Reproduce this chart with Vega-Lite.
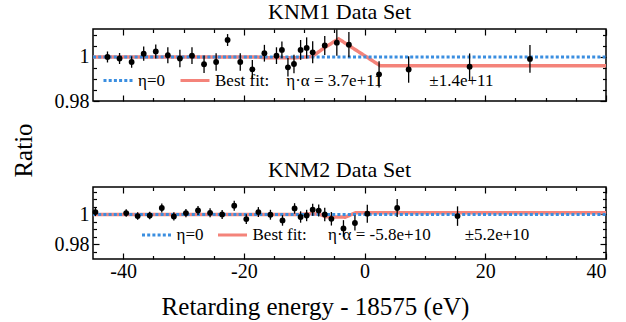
{
  "$schema": "https://vega.github.io/schema/vega-lite/v6.json",
  "padding": {"left": 10, "top": 0, "right": 5, "bottom": 5},
  "background": "white",
  "datasets": {
    "k1pts": [
      {"x": -42.6, "y": 1.0, "e": 0.0025}, {"x": -40.6, "y": 0.9993, "e": 0.0025}, {"x": -38.6, "y": 0.9977, "e": 0.0026},
      {"x": -36.6, "y": 1.0015, "e": 0.0032}, {"x": -34.6, "y": 1.0025, "e": 0.0032}, {"x": -32.6, "y": 1.0008, "e": 0.0036},
      {"x": -30.6, "y": 0.9993, "e": 0.004}, {"x": -28.6, "y": 1.0006, "e": 0.0038}, {"x": -26.6, "y": 0.9967, "e": 0.004},
      {"x": -24.6, "y": 0.9977, "e": 0.004}, {"x": -22.7, "y": 1.0077, "e": 0.0027}, {"x": -20.6, "y": 0.9977, "e": 0.004},
      {"x": -18.6, "y": 0.9944, "e": 0.0042}, {"x": -16.6, "y": 1.0017, "e": 0.0038}, {"x": -14.6, "y": 1.0006, "e": 0.0038},
      {"x": -13.7, "y": 1.0032, "e": 0.0038}, {"x": -12.7, "y": 0.9953, "e": 0.0042}, {"x": -11.7, "y": 0.9968, "e": 0.0042},
      {"x": -10.6, "y": 1.0032, "e": 0.0045}, {"x": -9.6, "y": 1.0041, "e": 0.0048}, {"x": -8.6, "y": 1.0021, "e": 0.005},
      {"x": -6.6, "y": 1.0052, "e": 0.0043}, {"x": -4.6, "y": 1.0065, "e": 0.006}, {"x": -2.6, "y": 1.0056, "e": 0.0057},
      {"x": 2.4, "y": 0.9921, "e": 0.006}, {"x": 7.3, "y": 0.9943, "e": 0.006}, {"x": 17.4, "y": 0.9956, "e": 0.006},
      {"x": 27.4, "y": 0.9991, "e": 0.0063}
    ],
    "k1fit": [
      {"s": "fit", "x": -45, "y": 1.0}, {"s": "fit", "x": -18, "y": 1.0}, {"s": "fit", "x": -16, "y": 0.9996},
      {"s": "fit", "x": -11.5, "y": 0.9996}, {"s": "fit", "x": -8.7, "y": 1.0002}, {"s": "fit", "x": -6.5, "y": 1.0045},
      {"s": "fit", "x": -4.3, "y": 1.0082}, {"s": "fit", "x": 2.6, "y": 0.996}, {"s": "fit", "x": 40, "y": 0.996}
    ],
    "k1eta": [{"s": "eta0", "x": -45, "y": 1.0}, {"s": "eta0", "x": 40, "y": 1.0}],
    "k2pts": [
      {"x": -44.6, "y": 1.0016, "e": 0.0027}, {"x": -39.5, "y": 1.0009, "e": 0.0025}, {"x": -37.6, "y": 0.9989, "e": 0.0025},
      {"x": -35.6, "y": 0.9993, "e": 0.0025}, {"x": -33.6, "y": 1.0043, "e": 0.003}, {"x": -31.6, "y": 0.9987, "e": 0.0027},
      {"x": -29.6, "y": 1.0009, "e": 0.0027}, {"x": -27.6, "y": 1.0027, "e": 0.003}, {"x": -25.6, "y": 1.0011, "e": 0.003},
      {"x": -23.6, "y": 1.0, "e": 0.003}, {"x": -21.6, "y": 1.0058, "e": 0.0033}, {"x": -19.6, "y": 0.9969, "e": 0.0033},
      {"x": -17.6, "y": 1.0016, "e": 0.0033}, {"x": -15.6, "y": 0.9998, "e": 0.0033}, {"x": -13.6, "y": 0.996, "e": 0.0035},
      {"x": -11.6, "y": 1.004, "e": 0.0035}, {"x": -10.6, "y": 0.9983, "e": 0.0038}, {"x": -9.6, "y": 0.9993, "e": 0.0038},
      {"x": -8.6, "y": 1.0032, "e": 0.004}, {"x": -7.6, "y": 1.0026, "e": 0.004}, {"x": -6.6, "y": 1.0, "e": 0.0045},
      {"x": -5.5, "y": 0.9971, "e": 0.0045}, {"x": -3.5, "y": 0.9907, "e": 0.0055}, {"x": -1.6, "y": 0.9943, "e": 0.005},
      {"x": 0.45, "y": 1.0005, "e": 0.006}, {"x": 5.4, "y": 1.0043, "e": 0.006}, {"x": 15.4, "y": 0.9989, "e": 0.0065}
    ],
    "k2fit": [
      {"s": "fit", "x": -45, "y": 1.0}, {"s": "fit", "x": -11, "y": 1.0}, {"s": "fit", "x": -9, "y": 1.0004},
      {"s": "fit", "x": -7.5, "y": 1.0003}, {"s": "fit", "x": -6.5, "y": 0.9985}, {"s": "fit", "x": -3.2, "y": 0.9982},
      {"s": "fit", "x": -1.5, "y": 1.0011}, {"s": "fit", "x": 40, "y": 1.0011}
    ],
    "k2eta": [{"s": "eta0", "x": -45, "y": 1.0}, {"s": "eta0", "x": 40, "y": 1.0}]
  },
  "vconcat": [
    {
      "title": {"text": "KNM1 Data Set", "dx": -10},
      "width": 513,
      "height": 72,
      "layer": [
        {
          "data": {"name": "k1fit"},
          "mark": {"type": "line", "strokeWidth": 3.5, "strokeCap": "butt"},
          "encoding": {
            "x": {"field": "x", "type": "quantitative", "scale": {"domain": [-45, 40], "nice": false, "zero": false},
              "axis": {"orient": "bottom", "values": [-40, -35, -30, -25, -20, -15, -10, -5, 0, 5, 10, 15, 20, 25, 30, 35, 40], "labels": false, "title": null,
                "tickSize": {"condition": {"test": "datum.value % 20 === 0", "value": -6}, "value": -3.5}}},
            "y": {"field": "y", "type": "quantitative", "scale": {"domain": [0.98, 1.0127], "nice": false, "zero": false},
              "axis": {"orient": "left", "values": [0.98, 0.985, 0.99, 0.995, 1, 1.005, 1.01],
                "labelExpr": "abs(datum.value-1)<1e-6 ? '1' : abs(datum.value-0.98)<1e-6 ? '0.98' : ''",
                "labelPadding": 10, "labelFont": "Liberation Serif", "labelFontSize": 20,
                "tickSize": {"condition": {"test": "abs(datum.value-1)<1e-6 || abs(datum.value-0.98)<1e-6", "value": -6}, "value": -3.5},
                "title": "Ratio", "titleX": -70, "titleY": 121, "titleAngle": 270, "titleAlign": "center", "titleBaseline": "middle", "titleFont": "Liberation Serif"}},
            "color": {"field": "s", "type": "nominal", "scale": {"domain": ["eta0", "fit"], "range": ["#3a8ee0", "#f4837a"]},
              "legend": {"orient": "none", "legendX": 9, "legendY": 35.5, "direction": "horizontal", "title": null, "symbolType": "stroke", "symbolSize": 841, "symbolStrokeWidth": 3, "columnPadding": 9, "labelOffset": 4, "padding": 0, "labelLimit": 0, "labelFont": "Liberation Serif", "labelFontSize": 17,
                "labelExpr": "datum.value == 'eta0' ? 'η=0' : 'Best fit:\u00a0\u00a0\u00a0\u00a0η·α = 3.7e+11\u00a0\u00a0\u00a0\u00a0\u00a0\u00a0\u00a0\u00a0\u00a0\u00a0\u00a0±1.4e+11'"}},
            "strokeDash": {"field": "s", "type": "nominal", "scale": {"domain": ["eta0", "fit"], "range": [[3, 2.2], [1, 0]]},
              "legend": {"orient": "none", "legendX": 9, "legendY": 35.5, "direction": "horizontal", "title": null, "symbolType": "stroke", "symbolSize": 841, "symbolStrokeWidth": 3, "columnPadding": 9, "labelOffset": 4, "padding": 0, "labelLimit": 0, "labelFont": "Liberation Serif", "labelFontSize": 17,
                "labelExpr": "datum.value == 'eta0' ? 'η=0' : 'Best fit:\u00a0\u00a0\u00a0\u00a0η·α = 3.7e+11\u00a0\u00a0\u00a0\u00a0\u00a0\u00a0\u00a0\u00a0\u00a0\u00a0\u00a0±1.4e+11'"}}
          }
        },
        {
          "data": {"name": "k1eta"},
          "mark": {"type": "line", "strokeWidth": 3, "strokeCap": "butt"},
          "encoding": {
            "x": {"field": "x", "type": "quantitative", "axis": null},
            "y": {"field": "y", "type": "quantitative", "axis": null},
            "color": {"field": "s", "type": "nominal"},
            "strokeDash": {"field": "s", "type": "nominal"}
          }
        },
        {
          "data": {"name": "k1pts"},
          "mark": {"type": "errorbar", "color": "black", "thickness": 1.3},
          "encoding": {
            "x": {"field": "x", "type": "quantitative",
              "axis": {"orient": "top", "values": [-40, -35, -30, -25, -20, -15, -10, -5, 0, 5, 10, 15, 20, 25, 30, 35, 40], "labels": false, "title": null,
                "tickSize": {"condition": {"test": "datum.value % 20 === 0", "value": -6}, "value": -3.5}}},
            "y": {"field": "y", "type": "quantitative",
              "axis": {"orient": "right", "values": [0.98, 0.985, 0.99, 0.995, 1, 1.005, 1.01], "labels": false, "title": null,
                "tickSize": {"condition": {"test": "abs(datum.value-1)<1e-6 || abs(datum.value-0.98)<1e-6", "value": -6}, "value": -3.5}}},
            "yError": {"field": "e"}
          }
        },
        {
          "data": {"name": "k1pts"},
          "mark": {"type": "circle", "size": 34, "color": "black", "opacity": 1},
          "encoding": {
            "x": {"field": "x", "type": "quantitative", "axis": null},
            "y": {"field": "y", "type": "quantitative", "axis": null}
          }
        }
      ],
      "resolve": {"axis": {"x": "independent", "y": "independent"}}
    },
    {
      "title": {"text": "KNM2 Data Set", "dx": -10},
      "width": 513,
      "height": 72,
      "layer": [
        {
          "data": {"name": "k2fit"},
          "mark": {"type": "line", "strokeWidth": 3.5, "strokeCap": "butt"},
          "encoding": {
            "x": {"field": "x", "type": "quantitative", "scale": {"domain": [-45, 40], "nice": false, "zero": false},
              "axis": {"orient": "bottom", "values": [-40, -35, -30, -25, -20, -15, -10, -5, 0, 5, 10, 15, 20, 25, 30, 35, 40],
                "labelExpr": "datum.value % 20 === 0 ? toString(datum.value) : ''",
                "labelBaseline": "alphabetic", "labelPadding": 24, "labelFont": "Liberation Serif", "labelFontSize": 20,
                "tickSize": {"condition": {"test": "datum.value % 20 === 0", "value": -6}, "value": -3.5},
                "title": "Retarding energy - 18575 (eV)", "titleX": 222, "titleY": 55, "titleAlign": "center", "titleBaseline": "alphabetic", "titleFont": "Liberation Serif"}},
            "y": {"field": "y", "type": "quantitative", "scale": {"domain": [0.9703, 1.0183], "nice": false, "zero": false},
              "axis": {"orient": "left", "values": [0.97, 0.975, 0.98, 0.985, 0.99, 0.995, 1, 1.005, 1.01, 1.015],
                "labelExpr": "abs(datum.value-1)<1e-6 ? '1' : abs(datum.value-0.98)<1e-6 ? '0.98' : ''",
                "labelPadding": 10, "labelFont": "Liberation Serif", "labelFontSize": 20,
                "tickSize": {"condition": {"test": "abs(datum.value-1)<1e-6 || abs(datum.value-0.98)<1e-6", "value": -6}, "value": -3.5},
                "title": null}},
            "color": {"field": "s", "type": "nominal", "scale": {"domain": ["eta0", "fit"], "range": ["#3a8ee0", "#f4837a"]},
              "legend": {"orient": "none", "legendX": 47.5, "legendY": 32, "direction": "horizontal", "title": null, "symbolType": "stroke", "symbolSize": 841, "symbolStrokeWidth": 3, "columnPadding": 8, "labelOffset": 4, "padding": 0, "labelLimit": 0, "labelFont": "Liberation Serif", "labelFontSize": 17,
                "labelExpr": "datum.value == 'eta0' ? 'η=0' : 'Best fit:\u00a0\u00a0\u00a0\u00a0\u00a0η·α = -5.8e+10\u00a0\u00a0\u00a0\u00a0\u00a0\u00a0\u00a0\u00a0±5.2e+10'"}},
            "strokeDash": {"field": "s", "type": "nominal", "scale": {"domain": ["eta0", "fit"], "range": [[3, 2.2], [1, 0]]},
              "legend": {"orient": "none", "legendX": 47.5, "legendY": 32, "direction": "horizontal", "title": null, "symbolType": "stroke", "symbolSize": 841, "symbolStrokeWidth": 3, "columnPadding": 8, "labelOffset": 4, "padding": 0, "labelLimit": 0, "labelFont": "Liberation Serif", "labelFontSize": 17,
                "labelExpr": "datum.value == 'eta0' ? 'η=0' : 'Best fit:\u00a0\u00a0\u00a0\u00a0\u00a0η·α = -5.8e+10\u00a0\u00a0\u00a0\u00a0\u00a0\u00a0\u00a0\u00a0±5.2e+10'"}}
          }
        },
        {
          "data": {"name": "k2eta"},
          "mark": {"type": "line", "strokeWidth": 3, "strokeCap": "butt"},
          "encoding": {
            "x": {"field": "x", "type": "quantitative", "axis": null},
            "y": {"field": "y", "type": "quantitative", "axis": null},
            "color": {"field": "s", "type": "nominal"},
            "strokeDash": {"field": "s", "type": "nominal"}
          }
        },
        {
          "data": {"name": "k2pts"},
          "mark": {"type": "errorbar", "color": "black", "thickness": 1.3},
          "encoding": {
            "x": {"field": "x", "type": "quantitative",
              "axis": {"orient": "top", "values": [-40, -35, -30, -25, -20, -15, -10, -5, 0, 5, 10, 15, 20, 25, 30, 35, 40], "labels": false, "title": null,
                "tickSize": {"condition": {"test": "datum.value % 20 === 0", "value": -6}, "value": -3.5}}},
            "y": {"field": "y", "type": "quantitative",
              "axis": {"orient": "right", "values": [0.97, 0.975, 0.98, 0.985, 0.99, 0.995, 1, 1.005, 1.01, 1.015], "labels": false, "title": null,
                "tickSize": {"condition": {"test": "abs(datum.value-1)<1e-6 || abs(datum.value-0.98)<1e-6", "value": -6}, "value": -3.5}}},
            "yError": {"field": "e"}
          }
        },
        {
          "data": {"name": "k2pts"},
          "mark": {"type": "circle", "size": 34, "color": "black", "opacity": 1},
          "encoding": {
            "x": {"field": "x", "type": "quantitative", "axis": null},
            "y": {"field": "y", "type": "quantitative", "axis": null}
          }
        }
      ],
      "resolve": {"axis": {"x": "independent", "y": "independent"}}
    }
  ],
  "spacing": 86,
  "bounds": "flush",
  "resolve": {
    "scale": {"color": "independent", "strokeDash": "independent", "y": "independent"},
    "legend": {"color": "independent", "strokeDash": "independent"}
  },
  "config": {
    "font": "Liberation Serif",
    "view": {"stroke": "black", "strokeWidth": 1.5},
    "axis": {"domain": false, "grid": false, "ticks": true, "tickColor": "black", "tickWidth": 1.2,
      "labelFont": "Liberation Serif", "labelFontSize": 20, "labelColor": "black",
      "titleFont": "Liberation Serif", "titleFontWeight": "normal", "titleColor": "black", "titleFontSize": 25},
    "legend": {"labelFont": "Liberation Serif", "labelFontSize": 17, "labelColor": "black", "labelLimit": 0},
    "title": {"font": "Liberation Serif", "fontSize": 22, "fontWeight": "normal", "color": "black", "baseline": "alphabetic", "offset": 0, "anchor": "middle"}
  }
}
